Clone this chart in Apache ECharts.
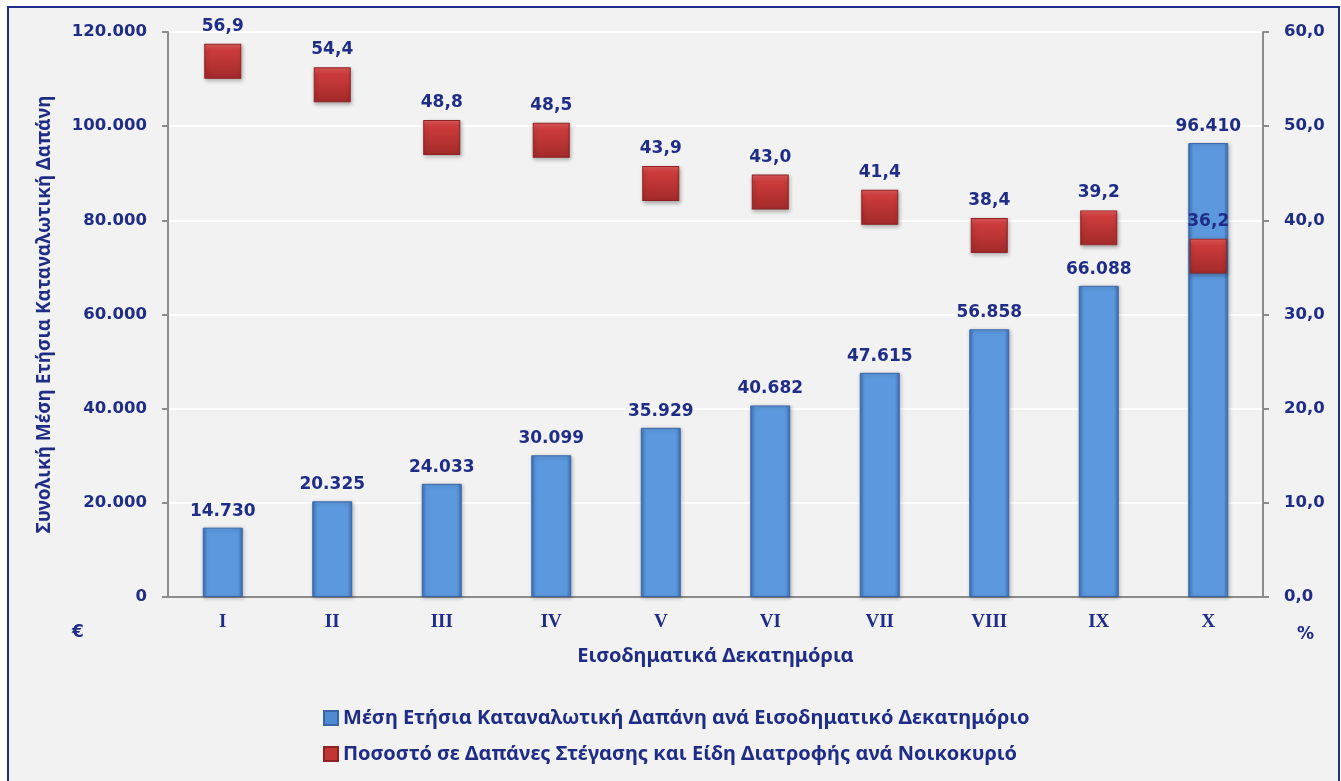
<!DOCTYPE html>
<html>
<head>
<meta charset="utf-8">
<script src="https://cdn.jsdelivr.net/npm/echarts@6/dist/echarts.min.js"></script>
<style>
  html, body { margin: 0; padding: 0; background: #ffffff; }
  #frame { position: absolute; left: 7px; top: 6px; width: 1329px; height: 790px;
           background: #f2f2f2; border: 2px solid #1f2f8a; }
  #chart { position: absolute; left: 0; top: 0; width: 1341px; height: 781px; }
</style>
</head>
<body>
<div id="frame"></div>
<div id="chart"></div>
<script>
// decile categories
var deciles = ['I', 'II', 'III', 'IV', 'V', 'VI', 'VII', 'VIII', 'IX', 'X'];
// mean annual consumption expenditure (€)
var spending = [14730, 20325, 24033, 30099, 35929, 40682, 47615, 56858, 66088, 96410];
// share of housing + food (%)
var share = [56.9, 54.4, 48.8, 48.5, 43.9, 43.0, 41.4, 38.4, 39.2, 36.2];

var navy = '#1f2d86';
var numFont = 'DejaVu Sans';
var txtFont = 'Noto Sans';

function fmtThousands(v) {
  return String(Math.round(v)).replace(/\B(?=(\d{3})+(?!\d))/g, '.');
}
function fmtComma(v) {
  return v.toFixed(1).replace('.', ',');
}

var barFill = new echarts.graphic.LinearGradient(0, 0, 1, 0, [
  { offset: 0, color: '#3d6fb5' },
  { offset: 0.12, color: '#5b98dd' },
  { offset: 0.88, color: '#5b98dd' },
  { offset: 1, color: '#3d6fb5' }
]);
var redFill = new echarts.graphic.LinearGradient(0, 0, 0, 1, [
  { offset: 0, color: '#e45a5a' },
  { offset: 0.2, color: '#cc3b3b' },
  { offset: 1, color: '#a32a2a' }
]);

var chart = echarts.init(document.getElementById('chart'));

var option = {
  backgroundColor: 'transparent',
  animation: false,
  grid: { left: 168, right: 78, top: 32, bottom: 184 },
  legend: {
    orient: 'vertical',
    left: 318,
    top: 703,
    itemWidth: 14,
    itemHeight: 14,
    itemGap: 16,
    textStyle: { color: navy, fontFamily: txtFont, fontWeight: 'bold', fontSize: 20 },
    data: [
      { name: 'Μέση Ετήσια Καταναλωτική Δαπάνη ανά Εισοδηματικό Δεκατημόριο', icon: 'rect',
        itemStyle: { color: '#4f8bd2' } },
      { name: 'Ποσοστό σε Δαπάνες Στέγασης και Είδη Διατροφής ανά Νοικοκυριό', icon: 'rect',
        itemStyle: { color: '#c23535' } }
    ]
  },
  xAxis: {
    type: 'category',
    data: deciles,
    name: 'Εισοδηματικά Δεκατημόρια',
    nameLocation: 'middle',
    nameGap: 49,
    nameTextStyle: { color: navy, fontFamily: txtFont, fontWeight: 'bold', fontSize: 20 },
    axisLine: { lineStyle: { color: '#8c8c8c', width: 2 } },
    axisTick: { show: false },
    axisLabel: { color: navy, fontFamily: 'Liberation Serif', fontWeight: 'bold', fontSize: 19, margin: 16 }
  },
  yAxis: [
    {
      type: 'value',
      min: 0, max: 120000, interval: 20000,
      name: 'Συνολική Μέση Ετήσια Καταναλωτική Δαπάνη',
      nameLocation: 'middle',
      nameRotate: 90,
      nameGap: 114,
      nameTextStyle: { color: navy, fontFamily: txtFont, fontWeight: 'bold', fontSize: 19 },
      axisLine: { show: true, lineStyle: { color: '#8c8c8c', width: 2 } },
      axisTick: { show: true, length: 6, lineStyle: { color: '#8c8c8c', width: 2 } },
      splitLine: { lineStyle: { color: '#ffffff', width: 2 } },
      axisLabel: { color: navy, fontFamily: numFont, fontWeight: 'bold', fontSize: 16.5, margin: 21,
        formatter: function (v) { return fmtThousands(v); } }
    },
    {
      type: 'value',
      min: 0, max: 60, interval: 10,
      axisLine: { show: true, lineStyle: { color: '#8c8c8c', width: 2 } },
      axisTick: { show: true, length: 6, lineStyle: { color: '#8c8c8c', width: 2 } },
      splitLine: { show: false },
      axisLabel: { color: navy, fontFamily: numFont, fontWeight: 'bold', fontSize: 16.5, margin: 21,
        formatter: function (v) { return fmtComma(v); } }
    }
  ],
  graphic: [
    { type: 'text', left: 72, top: 624,
      style: { text: '€', fill: navy, font: 'bold 17px "DejaVu Sans"' } },
    { type: 'text', left: 1297, top: 626,
      style: { text: '%', fill: navy, font: 'bold 17px "DejaVu Sans"' } }
  ],
  series: [
    {
      name: 'Μέση Ετήσια Καταναλωτική Δαπάνη ανά Εισοδηματικό Δεκατημόριο',
      type: 'bar',
      data: spending,
      barWidth: 40,
      itemStyle: { color: barFill, borderColor: '#3a66a8', borderWidth: 1,
        shadowColor: 'rgba(0,0,0,0.25)', shadowBlur: 4, shadowOffsetX: 1, shadowOffsetY: 1 },
      label: { show: true, position: 'top', distance: 8, color: navy, fontFamily: numFont,
        fontWeight: 'bold', fontSize: 17,
        formatter: function (p) { return fmtThousands(p.value); } },
      z: 2
    },
    {
      name: 'Ποσοστό σε Δαπάνες Στέγασης και Είδη Διατροφής ανά Νοικοκυριό',
      type: 'scatter',
      yAxisIndex: 1,
      data: share,
      symbol: 'rect',
      symbolSize: [36, 34],
      itemStyle: { color: redFill, borderColor: '#8e2222', borderWidth: 1, opacity: 1,
        shadowColor: 'rgba(0,0,0,0.3)', shadowBlur: 4, shadowOffsetX: 1, shadowOffsetY: 2 },
      label: { show: true, position: 'top', distance: 9, color: navy, fontFamily: numFont,
        fontWeight: 'bold', fontSize: 17,
        formatter: function (p) { return fmtComma(p.value); } },
      z: 5
    }
  ]
};

chart.setOption(option);
</script>
</body>
</html>
